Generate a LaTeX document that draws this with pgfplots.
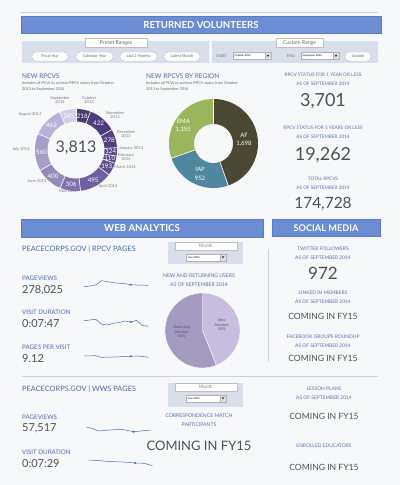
\documentclass[border=0pt]{standalone}
\usepackage{pgfplots}
\pgfplotsset{compat=1.18}
\usepackage{fontspec}
\setmainfont{Lato}
\definecolor{bg}{HTML}{F7F8FA}
\definecolor{barblue}{HTML}{6B8DD3}
\definecolor{baredge}{HTML}{5A7BC4}
\definecolor{panel}{HTML}{D9DFEA}
\definecolor{hblue}{HTML}{4C6BB0}
\definecolor{lblue}{HTML}{5A70B5}
\definecolor{numgrey}{HTML}{505050}
\definecolor{mgrey}{HTML}{7A7A7A}
\definecolor{lineg}{HTML}{D2D2D6}
\definecolor{spark}{HTML}{4A6CC0}
% donut 1
\definecolor{m1}{HTML}{4A3977}
\definecolor{m2}{HTML}{4D3C7B}
\definecolor{m3}{HTML}{514180}
\definecolor{m4}{HTML}{574788}
\definecolor{m5}{HTML}{5C4C8D}
\definecolor{m6}{HTML}{615193}
\definecolor{m7}{HTML}{6E5FA0}
\definecolor{m8}{HTML}{8072AC}
\definecolor{m9}{HTML}{958AB9}
\definecolor{m10}{HTML}{A79DC7}
\definecolor{m11}{HTML}{BAB2D6}
\definecolor{m12}{HTML}{D3CEE5}
% donut 2
\definecolor{af}{HTML}{4A4833}
\definecolor{iap}{HTML}{4F87A1}
\definecolor{ema}{HTML}{9AB65D}
% pie
\definecolor{newc}{HTML}{C6BEDC}
\definecolor{retc}{HTML}{A39BBF}

\newcommand\fs[2]{\fontsize{#1}{#2}\selectfont}
\pgfplotsset{
  ring/.style={x=1pt,y=1pt,xmin=-45,xmax=45,ymin=-45,ymax=45,hide axis,clip=false,anchor=center},
  sparkax/.style={x=5.85pt,y=1pt,xmin=0,xmax=11,ymin=0,ymax=12,hide axis,clip=false,anchor=south west},
}
% segment: start angle, end angle, colour, mid radius, ring width
\newcommand\seg[5]{\addplot[data cs=polar, domain=#1:#2, samples=50, draw=#3, line width=#5, line cap=butt, line join=round] {#4};}
\newcommand\sep[3]{\addplot[data cs=polar, draw=white, line width=0.6pt] coordinates {(#1,#2) (#1,#3)};}

\newcommand\dropdown[5]{%
  \filldraw[fill=white, draw=gray!60, line width=0.3pt] (#1,#2) rectangle (#3,#4);
  \filldraw[fill=gray!25, draw=gray!60, line width=0.3pt] ({#3-6},#2) rectangle (#3,#4);
  \fill[black!80] ({#3-4.3},{#2+2.4}) -- ({#3-1.7},{#2+2.4}) -- ({#3-3},{#2+4.4}) -- cycle;
  \node[anchor=west, font=\fs{2.6}{3}, inner sep=0] at ({#1+1.5},{(#2+#4)/2}) {#5};
}
\newcommand\monthbox[3]{% x, top y, height
  \fill[panel] (#1,#2) rectangle ({#1+75},{#2+#3});
  \filldraw[fill=white, draw=gray!50, line width=0.3pt] ({#1+7},#2) rectangle ({#1+69},{#2+8.5});
  \node[font=\fs{4.6}{5}, text=gray] at ({#1+38},{#2+4.3}) {Month};
  \dropdown{#1+18}{#2+12}{#1+58}{#2+19}{June 2014}
}
\newcommand\btn[5]{%
  \filldraw[fill=white, draw=gray!55, line width=0.3pt, rounded corners=4pt] (#1,#2) rectangle (#3,#4);
  \node[font=\fs{3.8}{4.5}, text=black!60] at ({(#1+#3)/2},{(#2+#4)/2}) {#5};
}

\pgfplotstableread{
i v
0 3.3
1 4.0
2 5.0
3 9.3
4 8.3
5 7.3
6 6.8
7 6.3
8 5.3
9 5.0
10 4.8
11 4.7
}\pvA
\pgfplotstableread{
i v
0 9.3
1 10.0
2 10.7
3 5.8
4 5.0
5 6.7
6 7.5
7 9.0
8 8.0
9 9.7
10 4.5
11 3.7
}\vdA
\pgfplotstableread{
i v
0 4.0
1 4.2
2 4.3
3 2.7
4 2.8
5 3.0
6 3.2
7 3.5
8 3.7
9 4.0
10 3.5
11 2.7
}\ppv
\pgfplotstableread{
i v
0 7.7
1 6.5
2 4.0
3 4.5
4 5.0
5 5.4
6 5.7
7 4.5
8 3.3
9 3.8
10 4.5
11 5.0
}\pvB
\pgfplotstableread{
i v
0 10.0
1 9.7
2 9.3
3 8.8
4 8.4
5 8.2
6 8.0
7 7.5
8 7.0
9 7.0
10 6.0
11 4.0
}\vdB

\begin{document}
\begin{tikzpicture}
\useasboundingbox (0,0) rectangle (400pt,-485pt);
\fill[bg] (0,0) rectangle (400pt,-485pt);

\begin{scope}[x=1pt,y=-1pt]
% ---------- header ----------
\draw[lineg, line width=0.6pt] (20,12) -- (378,12);
\filldraw[fill=barblue, draw=baredge, line width=0.4pt] (21,16) rectangle (381,33);
\node[text=white, font=\bfseries\fs{9.6}{11}] at (201,24.8) {RETURNED VOLUNTEERS};

% filter panels
\fill[panel] (22,41) rectangle (209,63);
\fill[panel] (212,41) rectangle (378,63);
\filldraw[fill=white, draw=gray!50, line width=0.3pt] (85,38) rectangle (147,47.5);
\node[font=\fs{5.2}{6}, text=black!60] at (116,42.8) {Preset Ranges};
\filldraw[fill=white, draw=gray!50, line width=0.3pt] (276,38) rectangle (323,47.5);
\node[font=\fs{5.2}{6}, text=black!60] at (299.5,42.8) {Custom Range};
\btn{32}{52}{68}{61}{Fiscal Year}
\btn{76}{52}{113}{61}{Calendar Year}
\btn{120}{52}{157}{61}{Last 2 Months}
\btn{164}{52}{200}{61}{Latest Month}
\node[anchor=west, font=\fs{3.6}{4}, text=black!60, inner sep=0] at (216,56) {START};
\dropdown{233}{52.5}{271}{59.5}{October 2013}
\node[anchor=west, font=\fs{3.6}{4}, text=black!60, inner sep=0] at (287,56) {END};
\dropdown{301}{52.5}{339}{59.5}{September 2014}
\btn{345}{52}{371}{61}{Update}

% titles of top charts
\node[anchor=west, inner sep=0, text=hblue, font=\fs{6.5}{7}] at (22,76) {NEW RPCVS};
\node[anchor=west, inner sep=0, text=black!60, font=\fs{3.8}{4.5}] at (22,83.5) {Includes all PCVs to achieve RPCV status from October};
\node[anchor=west, inner sep=0, text=black!60, font=\fs{3.8}{4.5}] at (22,89.5) {2013 to September 2014};
\node[anchor=west, inner sep=0, text=hblue, font=\fs{6.5}{7}] at (146,76) {NEW RPCVS BY REGION};
\node[anchor=west, inner sep=0, text=black!60, font=\fs{3.8}{4.5}] at (146,83.5) {Includes all PCVs to achieve RPCV status from October};
\node[anchor=west, inner sep=0, text=black!60, font=\fs{3.8}{4.5}] at (146,89.5) {2013 to September 2014};

% month labels
\begin{scope}[every node/.style={text=mgrey, font=\fs{4}{4.8}, align=center, inner sep=0}]
\node at (60,100) {September\\2014};
\node at (89,100) {October\\2013};
\node at (115,115) {November\\2013};
\node at (126,134) {December\\2013};
\node[anchor=west] at (119,148) {January 2014};
\node at (126,157) {February\\2014};
\node at (125,167) {March 2014};
\node at (108,186) {April 2014};
\node at (68,191) {May 2014};
\node at (37,181) {June 2014};
\node at (21,149) {July 2014};
\node at (30,114) {August 2014};
\end{scope}
\node[text=numgrey, font=\fs{16}{18}] at (76,147.5) {3,813};

% KPIs top right
\begin{scope}[every node/.style={inner sep=0}]
\node[text=lblue, font=\fs{4.7}{5.5}] at (323,75) {RPCV STATUS FOR 1 YEAR OR LESS};
\node[text=lblue, font=\fs{4.7}{5.5}] at (323,83.5) {AS OF SEPTEMBER 2014};
\node[text=numgrey, font=\fs{18}{20}] at (323,101) {3,701};
\node[text=lblue, font=\fs{4.7}{5.5}] at (323,128) {RPCV STATUS FOR 5 YEARS OR LESS};
\node[text=lblue, font=\fs{4.7}{5.5}] at (323,136.5) {AS OF SEPTEMBER 2014};
\node[text=numgrey, font=\fs{18}{20}] at (323,155) {19,262};
\node[text=lblue, font=\fs{4.7}{5.5}] at (323,179) {TOTAL RPCVS};
\node[text=lblue, font=\fs{4.7}{5.5}] at (323,187.5) {AS OF SEPTEMBER 2014};
\node[text=numgrey, font=\fs{15.5}{18}] at (323,204) {174,728};
\end{scope}

% ---------- web analytics ----------
\filldraw[fill=barblue, draw=baredge, line width=0.4pt] (21,219) rectangle (263,237);
\node[text=white, font=\bfseries\fs{9.6}{11}] at (142,228.3) {WEB ANALYTICS};
\filldraw[fill=barblue, draw=baredge, line width=0.4pt] (272,219) rectangle (380,236);
\node[text=white, font=\bfseries\fs{9.2}{11}] at (326,227.8) {SOCIAL MEDIA};
\draw[lineg, line width=0.6pt] (268,249) -- (268,362);
\draw[lineg, line width=0.6pt] (22,376) -- (378,376);

\monthbox{168}{242}{22}
\monthbox{168}{383}{24}

\begin{scope}[every node/.style={inner sep=0}]
\node[anchor=west, text=hblue, font=\fs{7.4}{8}] at (22,249) {PEACECORPS.GOV | RPCV PAGES};
\node[anchor=west, text=hblue, font=\fs{6.2}{7}] at (22,278) {PAGEVIEWS};
\node[anchor=west, text=numgrey, font=\fs{11}{12}] at (22,290) {278,025};
\node[anchor=west, text=hblue, font=\fs{6.2}{7}] at (22,312) {VISIT DURATION};
\node[anchor=west, text=numgrey, font=\fs{11}{12}] at (22,324) {0:07:47};
\node[anchor=west, text=hblue, font=\fs{6.2}{7}] at (22,347) {PAGES PER VISIT};
\node[anchor=west, text=numgrey, font=\fs{11}{12}] at (22,358.5) {9.12};
\node[text=lblue, font=\fs{5.1}{6}] at (199,276) {NEW AND RETURNING USERS};
\node[text=lblue, font=\fs{5.1}{6}] at (199,284.5) {AS OF SEPTEMBER 2014};

\node[text=lblue, font=\fs{4.9}{5.5}] at (323,249) {TWITTER FOLLOWERS};
\node[text=lblue, font=\fs{4.9}{5.5}] at (323,258) {AS OF SEPTEMBER 2014};
\node[text=numgrey, font=\fs{17}{19}] at (323,273) {972};
\node[text=lblue, font=\fs{4.9}{5.5}] at (323,293) {LINKED IN MEMBERS};
\node[text=lblue, font=\fs{4.9}{5.5}] at (323,301.5) {AS OF SEPTEMBER 2014};
\node[text=numgrey, font=\fs{8.6}{10}] at (323,316) {COMING IN FY15};
\node[text=lblue, font=\fs{4.9}{5.5}] at (323,337) {FACEBOOK GROUPS ROUNDUP};
\node[text=lblue, font=\fs{4.9}{5.5}] at (323,345.5) {AS OF SEPTEMBER 2014};
\node[text=numgrey, font=\fs{8.6}{10}] at (323,358.5) {COMING IN FY15};

% ---------- WWS ----------
\node[anchor=west, text=hblue, font=\fs{7.4}{8}] at (22,389) {PEACECORPS.GOV | WWS PAGES};
\node[anchor=west, text=hblue, font=\fs{6.2}{7}] at (22,417) {PAGEVIEWS};
\node[anchor=west, text=numgrey, font=\fs{11}{12}] at (22,428.5) {57,517};
\node[anchor=west, text=hblue, font=\fs{6.2}{7}] at (22,452) {VISIT DURATION};
\node[anchor=west, text=numgrey, font=\fs{11}{12}] at (22,463.5) {0:07:29};
\node[text=lblue, font=\fs{5.1}{6}] at (199,416) {CORRESPONDENCE MATCH};
\node[text=lblue, font=\fs{5.1}{6}] at (199,424.5) {PARTICIPANTS};
\node[text=numgrey, font=\fs{13}{15}] at (199,446) {COMING IN FY15};
\node[text=lblue, font=\fs{4.9}{5.5}] at (324,389) {LESSON PLANS};
\node[text=lblue, font=\fs{4.9}{5.5}] at (324,397.5) {AS OF SEPTEMBER 2014};
\node[text=numgrey, font=\fs{8.6}{10}] at (324,416) {COMING IN FY15};
\node[text=lblue, font=\fs{4.9}{5.5}] at (324,446) {ENROLLED EDUCATORS};
\node[text=numgrey, font=\fs{8.6}{10}] at (324,467) {COMING IN FY15};
\end{scope}
\end{scope}

% ---------- donut: new RPCVs by month ----------
\begin{axis}[ring, at={(76pt,-150pt)}]
\seg{69.42}{90}{m1}{34.75}{12.5pt}
\seg{29.58}{69.42}{m2}{34.75}{12.5pt}
\seg{3.33}{29.58}{m3}{34.75}{12.5pt}
\seg{-8.38}{3.33}{m4}{34.75}{12.5pt}
\seg{-18.77}{-8.38}{m5}{34.75}{12.5pt}
\seg{-36.99}{-18.77}{m6}{34.75}{12.5pt}
\seg{-83.72}{-36.99}{m7}{34.75}{12.5pt}
\seg{-112.61}{-83.72}{m8}{34.75}{12.5pt}
\seg{-150.38}{-112.61}{m9}{34.75}{12.5pt}
\seg{-203.25}{-150.38}{m10}{34.75}{12.5pt}
\seg{-246.87}{-203.25}{m11}{34.75}{12.5pt}
\seg{-270}{-246.87}{m12}{34.75}{12.5pt}
\pgfplotsinvokeforeach{90,69.42,29.58,3.33,-8.38,-18.77,-36.99,-83.72,-112.61,-150.38,-203.25,-246.87}{\sep{#1}{28}{41.5}}
\begin{scope}[every node/.style={text=white, font=\fs{6.2}{7}, inner sep=0}]
\node at (axis cs:6.21,34.19) {218};
\node at (axis cs:22.56,26.42) {422};
\node at (axis cs:33.33,9.83) {278};
\node at (axis cs:34.72,-1.52) {124};
\node at (axis cs:33.78,-8.15) {110};
\node at (axis cs:30.72,-16.25) {193};
\node at (axis cs:17.19,-30.21) {495};
\node at (axis cs:-4.93,-34.40) {306};
\node at (axis cs:-23.02,-26.03) {400};
\node at (axis cs:-34.69,-1.94) {560};
\node at (axis cs:-24.54,24.60) {462};
\node at (axis cs:-6.99,34.04) {245};
\end{scope}
\end{axis}

% ---------- donut: by region ----------
\begin{axis}[ring, at={(213.5pt,-143.5pt)}]
\seg{-70.65}{90}{af}{32}{25pt}
\seg{-160.72}{-70.65}{iap}{32}{25pt}
\seg{-270}{-160.72}{ema}{32}{25pt}
\pgfplotsinvokeforeach{90,-70.65,-160.72}{\sep{#1}{19}{45}}
\begin{scope}[every node/.style={text=white, font=\fs{6}{8.5}, align=center, inner sep=0}]
\node at (axis cs:30.5,3.5) {AF\\1,698};
\node at (axis cs:-13.5,-30.5) {IAP\\952};
\node at (axis cs:-30.2,17.5) {EMA\\1,155};
\end{scope}
\end{axis}

% ---------- pie: new and returning ----------
\begin{axis}[ring, at={(202.5pt,-330.5pt)}]
\addplot[data cs=polar, domain=-68.4:90, samples=80, fill=newc, draw=white, line width=0.4pt] {37.5} -- (axis cs:0,0) -- cycle;
\addplot[data cs=polar, domain=-270:-68.4, samples=80, fill=retc, draw=white, line width=0.4pt] {37.5} -- (axis cs:0,0) -- cycle;
\begin{scope}[every node/.style={text=black!65, font=\fs{3.8}{4.6}, align=center, inner sep=0}]
\node at (axis cs:19.2,5.5) {New\\Sessions\\44\%};
\node at (axis cs:-20.8,-1.2) {Returning\\Sessions\\56\%};
\end{scope}
\end{axis}

% ---------- sparklines ----------
\begin{axis}[sparkax, at={(84pt,-290pt)}]
\addplot[spark, line width=0.5pt] table[x=i,y=v] {\pvA};
\addplot[spark, only marks, mark=*, mark size=0.8pt] coordinates {(8,5.3)};
\end{axis}
\begin{axis}[sparkax, at={(84pt,-330pt)}]
\addplot[spark, line width=0.5pt] table[x=i,y=v] {\vdA};
\addplot[spark, only marks, mark=*, mark size=0.8pt] coordinates {(8,8.0)};
\end{axis}
\begin{axis}[sparkax, at={(84pt,-360pt)}]
\addplot[spark, line width=0.5pt] table[x=i,y=v] {\ppv};
\addplot[spark, only marks, mark=*, mark size=0.8pt] coordinates {(8,3.7)};
\end{axis}
\begin{axis}[sparkax, at={(86.7pt,-435pt)}]
\addplot[spark, line width=0.5pt] table[x=i,y=v] {\pvB};
\addplot[spark, only marks, mark=*, mark size=0.8pt] coordinates {(8,3.3)};
\end{axis}
\begin{axis}[sparkax, at={(88.3pt,-470pt)}]
\addplot[spark, line width=0.5pt] table[x=i,y=v] {\vdB};
\addplot[spark, only marks, mark=*, mark size=0.8pt] coordinates {(8,7.0)};
\end{axis}
\end{tikzpicture}
\end{document}
